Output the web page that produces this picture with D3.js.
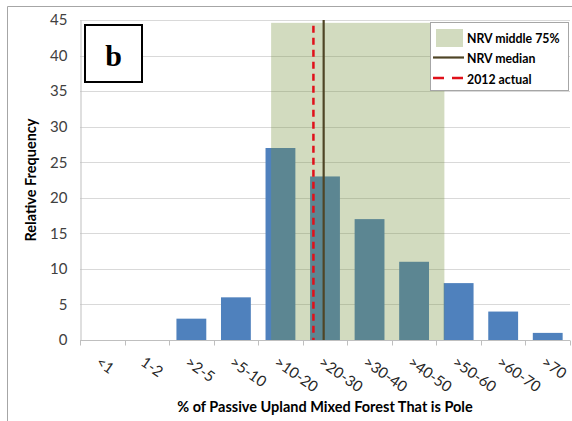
<!DOCTYPE html>
<html><head><meta charset="utf-8">
<script src="https://cdn.jsdelivr.net/npm/d3@7"></script>
<style>
body{margin:0;background:#fff;}
svg{display:block;font-family:Lato, "Open Sans", sans-serif;}
</style></head>
<body><svg id="c" width="572" height="421"></svg>
<script>
const categories = ["<1","1-2",">2-5",">5-10",">10-20",">20-30",">30-40",">40-50",">50-60",">60-70",">70"];
const frequency = [0,0,3,6,27,23,17,11,8,4,1];
const yTicks = [0,5,10,15,20,25,30,35,40,45];
// NRV reference values expressed in category-axis position (bin index units)
const nrvBand = [4.29, 8.18];
const nrvBandTop = 44.6;
const nrvMedian = 5.47;
const actual2012 = 5.24;
const legendItems = ["NRV middle 75%","NRV median","2012 actual"];

const svg = d3.select("#c");
const L=80, R=570, T=20, B=340;
const x = d3.scaleBand().domain(categories).range([L,R]).paddingInner(0.33).paddingOuter(0.165);
const xPos = d3.scaleLinear().domain([0,categories.length]).range([L,R]);
const y = d3.scaleLinear().domain([0,45]).range([B,T]);

// outer border
svg.append("path").attr("d","M7.5,421 L7.5,6.5 L572,6.5").attr("fill","none").attr("stroke","#a6a6a6").attr("stroke-width",1);

// gridlines
svg.append("g").selectAll("line").data(yTicks.filter(d=>d>0)).join("line")
  .attr("x1",L).attr("x2",R).attr("y1",d=>Math.round(y(d))+0.5).attr("y2",d=>Math.round(y(d))+0.5)
  .attr("stroke","#d9d9d9").attr("stroke-width",1);

// bars
svg.append("g").selectAll("rect").data(categories).join("rect")
  .attr("x",(d)=>x(d)).attr("width",x.bandwidth())
  .attr("y",(d,i)=>y(frequency[i])).attr("height",(d,i)=>B-y(frequency[i]))
  .attr("fill","#4f81bd");

// NRV band (semi-transparent overlay)
svg.append("rect").attr("x",xPos(nrvBand[0])).attr("width",xPos(nrvBand[1])-xPos(nrvBand[0]))
  .attr("y",y(nrvBandTop)).attr("height",B-y(nrvBandTop))
  .attr("fill","#76923c").attr("fill-opacity",0.33);

// y axis
const yAxis = d3.axisLeft(y).tickValues(yTicks).tickSize(0).tickPadding(13);
const gy = svg.append("g").attr("transform",`translate(${L+0.5},0)`).call(yAxis);
gy.select(".domain").attr("stroke","#bfbfbf");
gy.selectAll("text").attr("font-size",15).attr("fill","#404040").attr("font-family","Lato, sans-serif");

// x axis
const gx = svg.append("g").attr("transform",`translate(0,${B+0.5})`);
gx.append("line").attr("x1",L).attr("x2",R).attr("stroke","#bfbfbf");
gx.selectAll("line.tk").data(d3.range(categories.length+1)).join("line").attr("class","tk")
  .attr("x1",d=>Math.round(xPos(d))+0.5).attr("x2",d=>Math.round(xPos(d))+0.5).attr("y1",0).attr("y2",5).attr("stroke","#bfbfbf");
gx.selectAll("text").data(categories).join("text")
  .attr("transform",d=>`translate(${x(d)+x.bandwidth()/2-5},${21}) rotate(35)`)
  .attr("font-size",15).attr("fill","#262626").attr("dominant-baseline","middle")
  .text(d=>d);

// median & actual lines
svg.append("line").attr("x1",xPos(nrvMedian)).attr("x2",xPos(nrvMedian)).attr("y1",y(45)).attr("y2",B)
  .attr("stroke","#4f4526").attr("stroke-width",2.2);
svg.append("line").attr("x1",xPos(actual2012)).attr("x2",xPos(actual2012)).attr("y1",y(44.2)).attr("y2",B)
  .attr("stroke","#e0101a").attr("stroke-width",2.5).attr("stroke-dasharray","7,5");

// legend
const lg = svg.append("g");
lg.append("rect").attr("x",430.5).attr("y",22.5).attr("width",138).attr("height",68).attr("fill","#fff").attr("stroke","#a6a6a6");
lg.append("rect").attr("x",436).attr("y",29).attr("width",27).attr("height",18).attr("fill","#76923c").attr("fill-opacity",0.33);
lg.append("line").attr("x1",433).attr("x2",464).attr("y1",57.5).attr("y2",57.5).attr("stroke","#4f4526").attr("stroke-width",2.2);
lg.append("line").attr("x1",433).attr("x2",464).attr("y1",78).attr("y2",78).attr("stroke","#e0101a").attr("stroke-width",2.5).attr("stroke-dasharray","11,8");
lg.selectAll("text").data(legendItems).join("text")
  .attr("x",467).attr("y",(d,i)=>42.5+i*20.5).attr("font-size",12.3).attr("font-weight","bold").attr("fill","#000")
  .text(d=>d);

// panel label b
svg.append("rect").attr("x",85).attr("y",25).attr("width",57).attr("height",57).attr("fill","#fff").attr("stroke","#000").attr("stroke-width",2);
svg.append("text").attr("x",113.5).attr("y",66).attr("text-anchor","middle").attr("font-family","'Liberation Serif', 'DejaVu Serif', serif")
  .attr("font-weight","bold").attr("font-size",30).text("b");

// axis titles
svg.append("text").attr("transform","translate(36,180) rotate(-90)").attr("text-anchor","middle")
  .attr("font-size",14.5).attr("font-weight","bold").attr("fill","#000").text("Relative Frequency");
svg.append("text").attr("x",325).attr("y",412).attr("text-anchor","middle")
  .attr("font-size",14.5).attr("font-weight","bold").attr("fill","#000").text("% of Passive Upland Mixed Forest That is Pole");
</script></body></html>
